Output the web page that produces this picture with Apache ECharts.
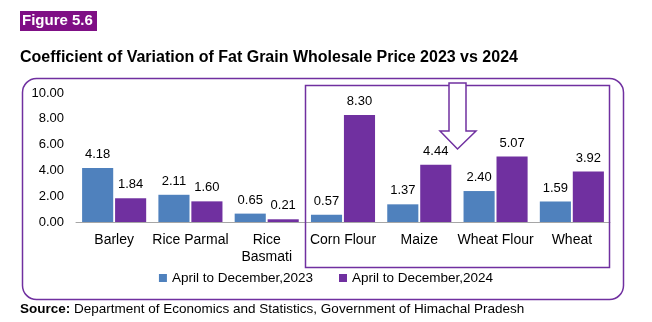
<!DOCTYPE html>
<html><head><meta charset="utf-8">
<script src="https://cdn.jsdelivr.net/npm/echarts@6/dist/echarts.min.js"></script>
<style>html,body{margin:0;padding:0;background:#fff}#c{width:652px;height:322px}</style>
</head><body><div id="c"></div>
<script>
const categories = ['Barley', 'Rice Parmal', 'Rice\nBasmati', 'Corn Flour', 'Maize', 'Wheat Flour', 'Wheat'];
const series2023 = [4.18, 2.11, 0.65, 0.57, 1.37, 2.40, 1.59];
const series2024 = [1.84, 1.60, 0.21, 8.30, 4.44, 5.07, 3.92];
const seriesNames = ['April to December,2023', 'April to December,2024'];
const yTicks = [0, 2, 4, 6, 8, 10];

const FONT = '"Liberation Sans", Arial, sans-serif';
const purple = '#7030a0';
const blue = '#4f81bd';

const chart = echarts.init(document.getElementById('c'), null, {renderer: 'canvas'});
chart.setOption({
  animation: false,
  textStyle: {fontFamily: FONT},
  grid: {left: 76, right: 42, top: 93, bottom: 100},
  legend: {
    data: seriesNames, bottom: 32, left: 'center', itemWidth: 8, itemHeight: 8, itemGap: 26,
    icon: 'rect', textStyle: {fontSize: 13.5, color: '#000', fontFamily: FONT}
  },
  xAxis: {
    type: 'category', data: categories,
    axisLine: {lineStyle: {color: '#a6a6a6'}}, axisTick: {show: false},
    axisLabel: {fontSize: 14, color: '#000', margin: 10, lineHeight: 17, interval: 0}
  },
  yAxis: {
    type: 'value', min: yTicks[0], max: yTicks[yTicks.length - 1], interval: 2,
    splitLine: {show: false}, axisLine: {show: false}, axisTick: {show: false},
    axisLabel: {fontSize: 13, color: '#000', margin: 12, formatter: v => v.toFixed(2)}
  },
  series: [
    {name: seriesNames[0], type: 'bar', data: series2023, barGap: '6%', barCategoryGap: '16%',
      itemStyle: {color: blue},
      label: {show: true, position: 'top', distance: 7, fontSize: 13, color: '#000', formatter: p => p.value.toFixed(2)}},
    {name: seriesNames[1], type: 'bar', data: series2024,
      itemStyle: {color: purple},
      label: {show: true, position: 'top', distance: 7, fontSize: 13, color: '#000', formatter: p => p.value.toFixed(2)}}
  ],
  graphic: [
    {type: 'rect', shape: {x: 20, y: 11, width: 77, height: 20}, style: {fill: '#7f0f85'}},
    {type: 'text', left: 22, top: 13, style: {text: 'Figure 5.6', fill: '#fff', font: 'bold 15px ' + FONT}},
    {type: 'text', left: 20, top: 50, style: {text: 'Coefficient of Variation of Fat Grain Wholesale Price 2023 vs 2024', fill: '#000', font: 'bold 16px ' + FONT}},
    {type: 'rect', z: -1, shape: {x: 22.5, y: 78.5, width: 601, height: 221, r: 14}, style: {fill: 'none', stroke: purple, lineWidth: 1.5}},
    {type: 'rect', z: 10, shape: {x: 305.5, y: 85.5, width: 304, height: 182}, style: {fill: 'none', stroke: purple, lineWidth: 1.5}},
    {type: 'polygon', z: 11, shape: {points: [[449, 83], [466, 83], [466, 131], [476, 131], [457.5, 149], [440, 131], [449, 131]]},
      style: {fill: '#fff', stroke: purple, lineWidth: 1.5}},
    {type: 'text', left: 20, top: 302, style: {
      text: '{b|Source:} Department of Economics and Statistics, Government of Himachal Pradesh',
      rich: {b: {font: 'bold 13.5px ' + FONT, fill: '#000'}},
      font: '13.5px ' + FONT, fill: '#000'}}
  ]
});
</script></body></html>
